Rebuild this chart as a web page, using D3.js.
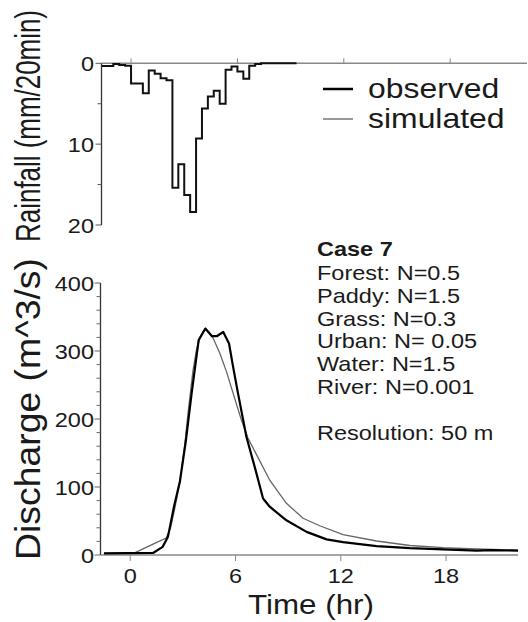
<!DOCTYPE html>
<html><head><meta charset="utf-8">
<script src="https://cdn.jsdelivr.net/npm/d3@7"></script>
<style>body{margin:0;background:#fff}svg{display:block}</style>
</head><body>
<script>
// ---------- data ----------
const rainStart = -5/3;          // hr, first 20-min interval
const rainStep = 1/3;            // 20 min
const rainfall = [0.33,0.33,0.1,0.2,0.3,
  2.5,2.5,3.7,0.9,1.3,1.85,2.1,
  15.4,12.5,16.3,18.4,9.3,5.6,4.1,3.4,5.0,0.8,0.4,1.0,1.9,0.3,0.1,
  0,0,0,0,0,0];
const obsTime = [-1.5,1.3,1.85,2.15,2.5,2.83,3.17,3.5,3.9,4.28,4.65,4.95,5.3,5.63,5.86,6.14,6.62,7.09,7.57,7.95,8.9,10.05,11.19,12.13,14.04,15.94,17.84,19.75,20.6,22.1];
const obsQ    = [2.5,3,12,27,72,108,168,238,316,333,322,322,328,311,277,238,174,130,83,71,51,34,23,19,13,10,8.3,6.4,7.3,6.3];
const simTime = [-1.5,0.25,0.82,1.39,2.05,2.3,2.55,2.81,3.1,3.29,3.58,3.77,3.95,4.14,4.33,4.72,5.1,5.48,5.86,6.33,6.71,7.19,7.95,8.9,9.85,10.8,12.13,14.04,15.94,17.84,19.75,22.1];
const simQ    = [2.5,3,10,17,25,40,70,105,160,208,272,301,318,328,332,319,297,270,238,199,172,148,110,76,54,43,30,20.6,14,10.8,8.8,7.3];
const xTicks = [0,6,12,18];
const rainTicks = [0,5,10,15,20];
const rainLabels = [0,10,20];
const qTicks = d3.range(0,401,20);
const qLabels = [0,100,200,300,400];
const legendLabels = ["observed","simulated"];
const caseTitle = "Case 7";
const caseLines = ["Forest: N=0.5","Paddy: N=1.5","Grass: N=0.3","Urban: N= 0.05","Water: N=1.5","River: N=0.001","","Resolution: 50 m"];

// ---------- layout ----------
const W = 528, H = 622, SX = 1.12;
const FONT = "'Liberation Sans', Arial, sans-serif";
const TXT = "#1a1a1a";
const svg = d3.select("body").append("svg").attr("width", W).attr("height", H);

const xTop = d3.scaleLinear().domain([-5/3, 67/3]).range([101.5, 527]);
const xBot = d3.scaleLinear().domain([-5/3, 22.1]).range([101, 518]);
const yRain = d3.scaleLinear().domain([0, 20]).range([63.3, 225]);
const yQ = d3.scaleLinear().domain([0, 400]).range([555, 283]);

function htext(x, y, s, size, opts={}) {
  return svg.append("text")
    .attr("transform", `translate(${x},${y}) scale(${SX},1)`)
    .attr("font-family", FONT).attr("font-size", size)
    .attr("fill", TXT)
    .attr("text-anchor", opts.anchor || "start")
    .attr("font-weight", opts.weight || "normal")
    .text(s);
}

// ---------- rainfall panel ----------
svg.append("line").attr("x1", xTop.range()[0]).attr("x2", xTop.range()[1])
  .attr("y1", yRain(0)).attr("y2", yRain(0)).attr("stroke", "#888").attr("stroke-width", 1.5);
xTicks.forEach(t => svg.append("line").attr("x1", xTop(t)).attr("x2", xTop(t))
  .attr("y1", yRain(0)).attr("y2", yRain(0) - 5).attr("stroke", "#888").attr("stroke-width", 1));

const rainPts = rainfall.map((v, i) => [rainStart + i * rainStep, v]);
rainPts.push([rainStart + rainfall.length * rainStep, 0]);
svg.append("path").datum(rainPts)
  .attr("d", d3.line().x(d => xTop(d[0])).y(d => yRain(d[1])).curve(d3.curveStepAfter))
  .attr("fill", "none").attr("stroke", "#111").attr("stroke-width", 2);

svg.append("line").attr("x1", 101.5).attr("x2", 101.5).attr("y1", yRain(0)).attr("y2", yRain(20))
  .attr("stroke", "#333").attr("stroke-width", 1.3);
rainTicks.forEach(v => {
  const major = rainLabels.includes(v);
  svg.append("line").attr("x1", 101.5).attr("x2", 101.5 - (major ? 6 : 4))
    .attr("y1", yRain(v)).attr("y2", yRain(v)).attr("stroke", "#555").attr("stroke-width", 1);
});
rainLabels.forEach(v => htext(94, yRain(v) + 7.5, String(v), 21, {anchor: "end"}));

// ---------- discharge panel ----------
svg.append("line").attr("x1", 100.5).attr("x2", 100.5).attr("y1", yQ(0)).attr("y2", yQ(400))
  .attr("stroke", "#333").attr("stroke-width", 1.3);
qTicks.forEach(v => {
  const major = qLabels.includes(v);
  svg.append("line").attr("x1", 100.5).attr("x2", 100.5 - (major ? 6 : 4))
    .attr("y1", yQ(v)).attr("y2", yQ(v)).attr("stroke", "#666").attr("stroke-width", 1);
});
qLabels.forEach(v => htext(94, yQ(v) + 7.5, String(v), 21, {anchor: "end"}));

svg.append("line").attr("x1", xBot.range()[0]).attr("x2", xBot.range()[1])
  .attr("y1", yQ(0)).attr("y2", yQ(0)).attr("stroke", "#888").attr("stroke-width", 1.5);
xTicks.forEach(t => {
  svg.append("line").attr("x1", xBot(t)).attr("x2", xBot(t))
    .attr("y1", yQ(0)).attr("y2", yQ(0) + 6).attr("stroke", "#888").attr("stroke-width", 1);
  htext(xBot(t), 583, String(t), 21, {anchor: "middle"});
});

const lineGen = d3.line().x(d => xBot(d[0])).y(d => yQ(d[1]));
svg.append("path").datum(simTime.map((t, i) => [t, simQ[i]]))
  .attr("d", lineGen).attr("fill", "none").attr("stroke", "#666").attr("stroke-width", 1.3);
svg.append("path").datum(obsTime.map((t, i) => [t, obsQ[i]]))
  .attr("d", lineGen).attr("fill", "none").attr("stroke", "#000").attr("stroke-width", 2.2)
  .attr("stroke-linejoin", "round");

// ---------- axis titles (rotated, scaled to the measured length) ----------
function vtext(x, y, s, size, len) {
  const t = svg.append("text")
    .attr("font-family", FONT).attr("font-size", size).attr("fill", TXT)
    .attr("text-anchor", "middle")
    .text(s);
  const natural = t.node().getComputedTextLength();
  const k = len / natural;
  t.attr("transform", `translate(${x},${y}) rotate(-90) scale(${k},${SX})`);
}
vtext(40, 126, "Rainfall (mm/20min)", 31, 232);
vtext(40, 409, "Discharge (m^3/s)", 31, 302);
htext(311, 614, "Time (hr)", 28, {anchor: "middle"});

// ---------- legend ----------
const legColors = ["#000", "#777"], legWidths = [2.5, 1.5];
legendLabels.forEach((s, i) => {
  const y = 89 + i * 30;
  svg.append("line").attr("x1", 323).attr("x2", 353).attr("y1", y).attr("y2", y)
    .attr("stroke", legColors[i]).attr("stroke-width", legWidths[i]);
  htext(368, y + 8.5, s, 28.5);
});

// ---------- annotation ----------
htext(317, 256, caseTitle, 21, {weight: "bold"});
caseLines.forEach((s, i) => { if (s) htext(317, 280 + i * 22.8, s, 21); });
</script>
</body></html>
